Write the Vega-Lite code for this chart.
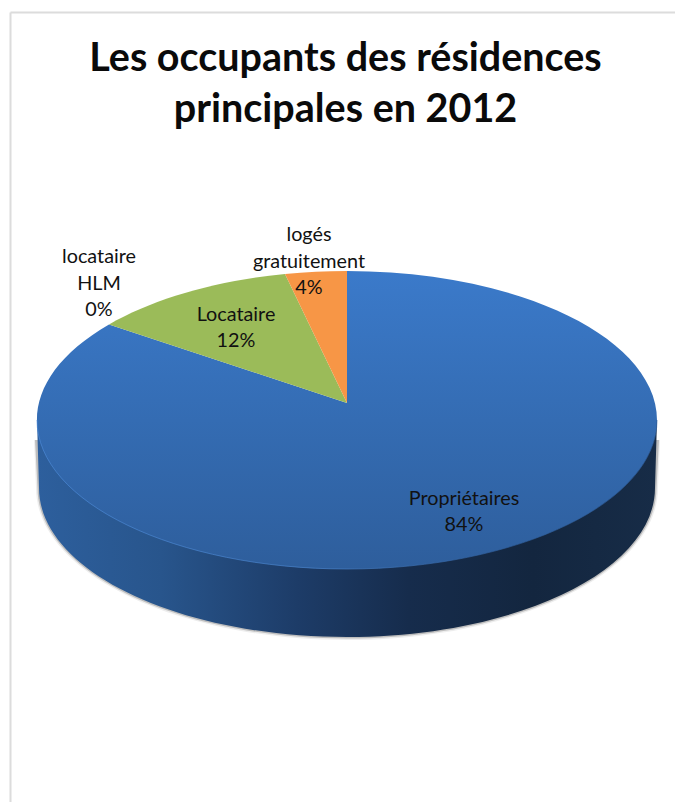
{
  "$schema": "https://vega.github.io/schema/vega-lite/v6.json",
  "width": 665,
  "height": 790,
  "padding": {"left": 10, "top": 12, "right": 0, "bottom": 0},
  "autosize": {"type": "none"},
  "background": "white",
  "config": {"view": {"stroke": null}},
  "title": {
    "text": ["Les occupants des résidences", "principales en 2012"],
    "font": "Lato",
    "fontSize": 39.5,
    "fontWeight": "bold",
    "color": "#0a0a0a",
    "lineHeight": 51,
    "anchor": "middle",
    "dx": 3,
    "offset": -118
  },
  "data": {
    "values": [
      {"occupant": "Propriétaires", "part": 84, "label": "Propriétaires\n84%"},
      {"occupant": "Locataire", "part": 12, "label": "Locataire\n12%"},
      {"occupant": "locataire HLM", "part": 0, "label": "locataire\nHLM\n0%"},
      {"occupant": "logés gratuitement", "part": 4, "label": "logés\ngratuitement\n4%"}
    ]
  },
  "encoding": {
    "x": {
      "datum": 0,
      "type": "quantitative",
      "scale": {"domain": [-337, 328], "nice": false, "zero": false},
      "axis": {"orient": "top", "title": null, "labels": false, "ticks": false, "grid": false, "domain": true, "domainColor": "#dcdcdc", "domainWidth": 2}
    },
    "y": {
      "datum": 0,
      "type": "quantitative",
      "scale": {"domain": [382, -408], "nice": false, "zero": false},
      "axis": {"orient": "left", "title": null, "labels": false, "ticks": false, "grid": false, "domain": true, "domainColor": "#dcdcdc", "domainWidth": 2}
    }
  },
  "layer": [
    {
      "description": "Soft shadow under the disc, outer band",
      "transform": [{"filter": "datum.occupant === 'Propriétaires'"}],
      "mark": {"type": "point", "filled": true, "size": 4, "opacity": 0.07, "fill": "#000000", "strokeWidth": 0,
        "shape": "M-313,20 L-311,68 A311,152 0 0 0 311,68 L313,20 Z"}
    },
    {
      "description": "Soft shadow under the disc, inner band",
      "transform": [{"filter": "datum.occupant === 'Propriétaires'"}],
      "mark": {"type": "point", "filled": true, "size": 4, "opacity": 0.2, "fill": "#000000", "strokeWidth": 0,
        "shape": "M-312,20 L-309.5,68 A309.5,150.5 0 0 0 309.5,68 L312,20 Z"}
    },
    {
      "description": "Side wall of the disc",
      "transform": [{"filter": "datum.occupant === 'Propriétaires'"}],
      "mark": {"type": "point", "filled": true, "size": 4, "opacity": 1, "strokeWidth": 0,
        "shape": "M-310,0 L-308,68 A308,149 0 0 0 308,68 L310,0 Z",
        "fill": {
          "gradient": "linear", "x1": 0, "y1": 0, "x2": 1, "y2": 0,
          "stops": [
            {"offset": 0, "color": "#2d5f9d"},
            {"offset": 0.2, "color": "#28558c"},
            {"offset": 0.42, "color": "#1d3c68"},
            {"offset": 0.6, "color": "#162c4c"},
            {"offset": 0.8, "color": "#13263f"},
            {"offset": 1, "color": "#172c47"}
          ]
        }}
    },
    {
      "description": "Top face: one wedge per occupant",
      "mark": {"type": "point", "filled": true, "size": 4, "opacity": 1, "strokeWidth": 0},
      "encoding": {
        "shape": {
          "field": "occupant",
          "type": "nominal",
          "legend": null,
          "scale": {
            "domain": ["Propriétaires", "Locataire", "locataire HLM", "logés gratuitement"],
            "range": [
              "M0,-17 L0,-149 A310,149 0 1 1 -238,-95.5 Z",
              "M0,-17 L-238,-95.5 A310,149 0 0 1 -62,-146 Z",
              "M0,-17 L-238,-95.5 Z",
              "M0,-17 L-62,-146 A310,149 0 0 1 0,-149 Z"
            ]
          }
        },
        "fill": {
          "condition": {
            "test": "datum.occupant === 'Propriétaires'",
            "value": {
              "gradient": "linear", "x1": 0, "y1": 0, "x2": 0, "y2": 1,
              "stops": [
                {"offset": 0, "color": "#3b7aca"},
                {"offset": 0.5, "color": "#346cb3"},
                {"offset": 1, "color": "#2e5e9c"}
              ]
            }
          },
          "field": "occupant",
          "type": "nominal",
          "legend": null,
          "scale": {
            "domain": ["Propriétaires", "Locataire", "locataire HLM", "logés gratuitement"],
            "range": ["#3a74bd", "#9bbb59", "#9bbb59", "#f79646"]
          }
        }
      }
    },
    {
      "description": "Thin bevel highlight along the front rim",
      "transform": [{"filter": "datum.occupant === 'Propriétaires'"}],
      "mark": {"type": "point", "filled": false, "size": 4, "opacity": 0.65, "strokeWidth": 1, "fill": null,
        "shape": "M-310,0 A310,149 0 0 0 310,0",
        "stroke": {
          "gradient": "linear", "x1": 0, "y1": 0, "x2": 1, "y2": 0,
          "stops": [
            {"offset": 0, "color": "#4c8ad8"},
            {"offset": 0.45, "color": "#4a84cc"},
            {"offset": 0.75, "color": "#2f5f9d"},
            {"offset": 1, "color": "#2f5f9d"}
          ]
        }}
    },
    {
      "transform": [{"filter": "datum.occupant === 'Propriétaires'"}],
      "mark": {"type": "text", "font": "Lato", "fontSize": 19.8, "color": "#111111", "lineBreak": "\n", "lineHeight": 26, "align": "center", "baseline": "top", "dx": 117, "dy": 69},
      "encoding": {"text": {"field": "label"}}
    },
    {
      "transform": [{"filter": "datum.occupant === 'Locataire'"}],
      "mark": {"type": "text", "font": "Lato", "fontSize": 19.8, "color": "#111111", "lineBreak": "\n", "lineHeight": 26, "align": "center", "baseline": "top", "dx": -111, "dy": -115},
      "encoding": {"text": {"field": "label"}}
    },
    {
      "transform": [{"filter": "datum.occupant === 'locataire HLM'"}],
      "mark": {"type": "text", "font": "Lato", "fontSize": 19.8, "color": "#111111", "lineBreak": "\n", "lineHeight": 26.5, "align": "center", "baseline": "top", "dx": -248, "dy": -173},
      "encoding": {"text": {"field": "label"}}
    },
    {
      "transform": [{"filter": "datum.occupant === 'logés gratuitement'"}],
      "mark": {"type": "text", "font": "Lato", "fontSize": 19.8, "color": "#111111", "lineBreak": "\n", "lineHeight": 26.5, "align": "center", "baseline": "top", "dx": -38, "dy": -195},
      "encoding": {"text": {"field": "label"}}
    }
  ]
}
